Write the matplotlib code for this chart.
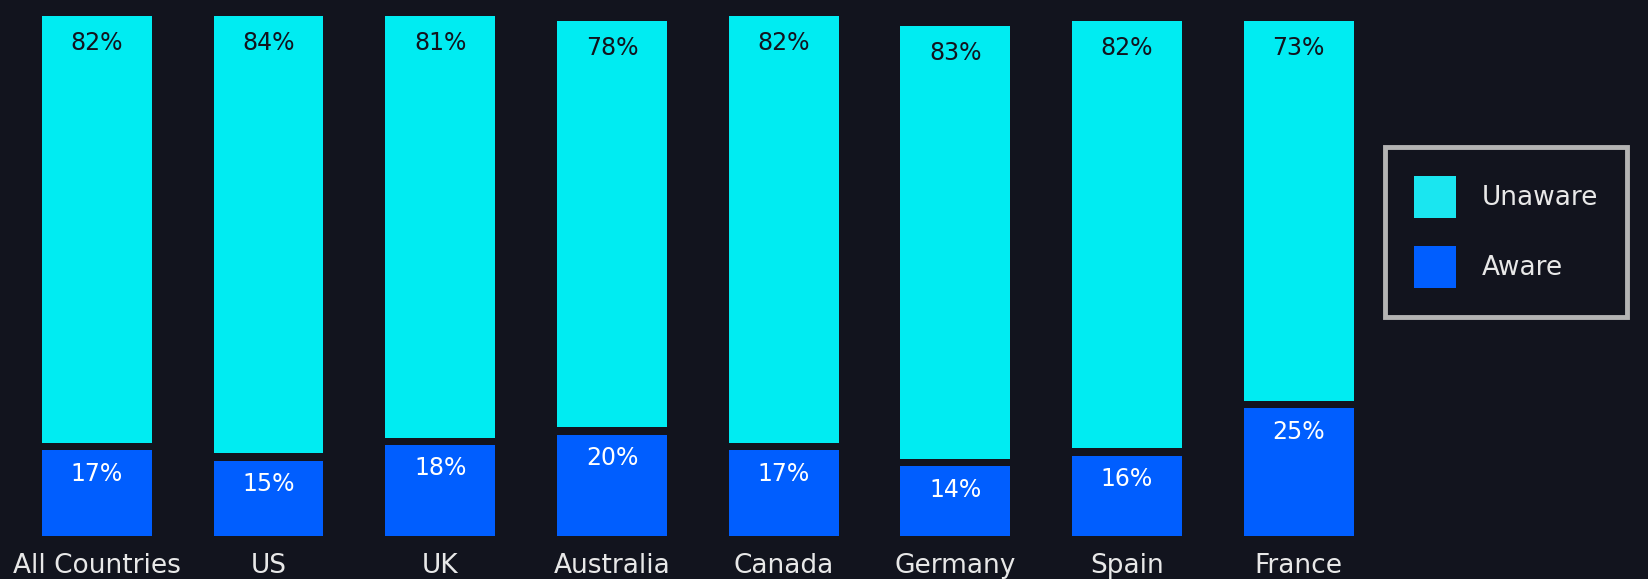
import matplotlib
matplotlib.use('Agg')
import matplotlib.pyplot as plt
from matplotlib.patches import Patch

# data
countries = ['All Countries', 'US', 'UK', 'Australia', 'Canada', 'Germany', 'Spain', 'France']
aware = [17, 15, 18, 20, 17, 14, 16, 25]
unaware = [82, 84, 81, 78, 82, 83, 82, 73]

bg = '#12141e'
cyan = '#00ecf2'
blue = '#005eff'
half_gap = 0.7  # dark gap between the two segments, in % units

fig = plt.figure(figsize=(16.48, 5.79), dpi=100, facecolor=bg)
ax = fig.add_axes([11 / 1648, 43 / 579, 1373.6 / 1648, 536 / 579])
ax.set_facecolor(bg)

x = list(range(len(countries)))
totals = [a + u for a, u in zip(aware, unaware)]
ax.bar(x, [a - half_gap for a in aware], width=0.64, color=blue)
ax.bar(x, [u - half_gap for u in unaware], bottom=[a + half_gap for a in aware],
       width=0.64, color=cyan)

# value labels just inside the top of each segment
for i in x:
    ax.annotate(f'{unaware[i]}%', (i, totals[i]), xytext=(0, -19.5),
                textcoords='offset points', ha='center', va='center', fontsize=17, color=bg)
    ax.annotate(f'{aware[i]}%', (i, aware[i]), xytext=(0, -19.5),
                textcoords='offset points', ha='center', va='center', fontsize=17, color='white')

ax.set_xlim(-0.5, len(countries) - 0.5)
ax.set_ylim(0, 102)
ax.set_xticks(x)
ax.set_xticklabels(countries, fontsize=19, color='#e8e8e8')
ax.tick_params(axis='x', length=0, pad=12.5)
ax.set_yticks([])
for s in ax.spines.values():
    s.set_visible(False)

handles = [Patch(facecolor='#1ae6f0', label='Unaware'), Patch(facecolor=blue, label='Aware')]
leg = fig.legend(handles=handles, loc='upper left', bbox_to_anchor=(1385 / 1648, 1 - 147 / 579),
                 borderaxespad=0, fontsize=19, frameon=True, fancybox=False,
                 handlelength=1.6, handleheight=2.07, handletextpad=0.95,
                 labelspacing=1.05, borderpad=1.1, labelcolor='#e8e8e8')
frame = leg.get_frame()
frame.set_facecolor(bg)
frame.set_edgecolor('#b4b4b4')
frame.set_linewidth(3.5)
frame.set_alpha(1)

fig.savefig('out.png', dpi=100, facecolor=bg)
